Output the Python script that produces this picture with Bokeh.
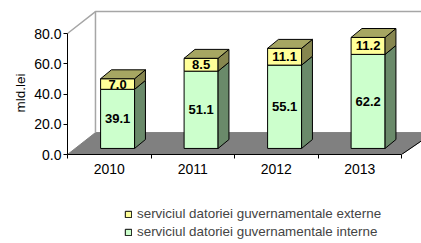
import math
from bokeh.plotting import figure
from bokeh.layouts import column
from bokeh.models import (Range1d, LinearAxis, FixedTicker, NumeralTickFormatter,
                          Legend, LegendItem, Title, ColumnDataSource)
from bokeh.embed import file_html
from bokeh.resources import INLINE
from bokeh.core.properties import value

# ---- data ----
years = ["2010", "2011", "2012", "2013"]
interne = [39.1, 51.1, 55.1, 62.2]
externe = [7.0, 8.5, 11.1, 11.2]
y_ticks = [0, 20, 40, 60, 80]
legend_labels = ["serviciul datoriei guvernamentale externe",
                 "serviciul datoriei guvernamentale interne"]
y_title = "mld.lei"

# ---- styling / geometry ----
FONT = "Liberation Sans"
GREEN, GREEN_SIDE = "#CCFFCC", "#6A8A6A"
YELLOW, YELLOW_SIDE, YELLOW_TOP = "#FFFF99", "#86864F", "#A6A662"
FLOOR = "#808080"
WALL = "#A6A6A6"

n = len(years)
depth_x, depth_y = 0.335, 14.5      # floor depth (data units)
bar_shift, half_w = 0.10, 0.2035     # bar offset inside category
ddx, ddy = 0.13, 5.9                 # bar depth
y0 = 4.0                             # bars baseline (mid-depth)

W = 421
H1, H2 = 190, 53
LEFT, FRAME_BOTTOM = 67, 154
p = figure(width=W, height=H1, output_backend="svg", toolbar_location=None,
           x_range=Range1d(0, (W - LEFT) / 83.5), y_range=Range1d(0, FRAME_BOTTOM / 1.5125),
           x_axis_type=None, y_axis_type=None,
           min_border_left=LEFT, min_border_bottom=H1 - FRAME_BOTTOM,
           min_border_top=0, min_border_right=0)
p.outline_line_color = None
p.background_fill_color = "white"
p.border_fill_color = "white"

# floor and walls
p.patch([0, n, n + depth_x + 0.05, depth_x], [0, 0, depth_y, depth_y],
        fill_color=FLOOR, line_color=FLOOR, line_width=1)
p.line([n, n + depth_x + 0.05], [0, depth_y], line_color="black", line_width=1)
p.line([0, depth_x, 6], [80, 80 + depth_y, 80 + depth_y], line_color=WALL, line_width=1.5)
p.line([depth_x, depth_x], [depth_y, 80 + depth_y], line_color=WALL, line_width=1.5)

# bars
centers = [i + 0.5 + bar_shift for i in range(n)]
left = [c - half_w for c in centers]
right = [c + half_w for c in centers]
g_top = [y0 + v for v in interne]
t_top = [g + v for g, v in zip(g_top, externe)]

src = ColumnDataSource(dict(left=left, right=right, bottom=[y0] * n, g_top=g_top, t_top=t_top))

def side(xr, yb, yt):
    return [xr, xr + ddx, xr + ddx, xr], [yb, yb + ddy, yt + ddy, yt]

gs = [side(r, y0, g) for r, g in zip(right, g_top)]
ys = [side(r, g, t) for r, g, t in zip(right, g_top, t_top)]
tops = [([l, r, r + ddx, l + ddx], [t, t, t + ddy, t + ddy]) for l, r, t in zip(left, right, t_top)]

p.quad(left="left", right="right", bottom="bottom", top="g_top", source=src,
       fill_color=GREEN, line_color="black", line_width=1)
p.patches([a for a, b in gs], [b for a, b in gs], fill_color=GREEN_SIDE, line_color="black", line_width=1)
p.quad(left="left", right="right", bottom="g_top", top="t_top", source=src,
       fill_color=YELLOW, line_color="black", line_width=1)
p.patches([a for a, b in ys], [b for a, b in ys], fill_color=YELLOW_SIDE, line_color="black", line_width=1)
p.patches([a for a, b in tops], [b for a, b in tops], fill_color=YELLOW_TOP, line_color="black", line_width=1)

# data labels
lab = ColumnDataSource(dict(
    x=centers + centers,
    y=[y0 + v / 2 for v in interne] + [g + v / 2 for g, v in zip(g_top, externe)],
    t=[f"{v:.1f}" for v in interne] + [f"{v:.1f}" for v in externe]))
p.text(x="x", y="y", text="t", source=lab, text_align="center", text_baseline="middle",
       text_font=value(FONT), text_font_size="13px", text_font_style="bold", text_color="black")

# y axis
yax = LinearAxis(ticker=FixedTicker(ticks=y_ticks), formatter=NumeralTickFormatter(format="0.0"),
                 bounds=(0, 80))
yax.axis_line_color = "black"
yax.major_tick_line_color = "black"
yax.major_tick_out = 4
yax.major_tick_in = 0
yax.minor_tick_line_color = None
yax.major_label_text_font = FONT
yax.major_label_text_font_size = "14px"
yax.major_label_text_color = "black"
yax.major_label_standoff = 2
p.add_layout(yax, "left")

# y title (left title, shifted down to the axis' middle)
p.add_layout(Title(text=y_title, align="left", offset=42, standoff=8,
                   text_font=FONT, text_font_size="13.5px", text_font_style="normal",
                   text_color="black"), "left")

# x axis
xt = [i + 0.5 for i in range(n)]
xax = LinearAxis(ticker=FixedTicker(ticks=xt, minor_ticks=list(range(n + 1))),
                 major_label_overrides={t: y for t, y in zip(xt, years)}, bounds=(0, n))
xax.axis_line_color = "black"
xax.major_tick_line_color = None
xax.minor_tick_line_color = "black"
xax.minor_tick_out = 4
xax.minor_tick_in = 0
xax.major_label_text_font = FONT
xax.major_label_text_font_size = "14px"
xax.major_label_text_color = "black"
xax.major_label_standoff = 3
p.add_layout(xax, "below")

# legend strip (frame aligned with the chart's frame)
q = figure(width=W, height=H2, output_backend="svg", toolbar_location=None,
           x_range=Range1d(0, W - LEFT), y_range=Range1d(0, H2),
           x_axis_type=None, y_axis_type=None,
           min_border_left=LEFT, min_border_bottom=0, min_border_top=0, min_border_right=0)
q.outline_line_color = None
q.grid.visible = False
r_y = q.quad(left="left", right="right", bottom="g_top", top="t_top", source=src,
             fill_color=YELLOW, line_color="black", line_width=1, visible=False)
r_g = q.quad(left="left", right="right", bottom="bottom", top="g_top", source=src,
             fill_color=GREEN, line_color="black", line_width=1, visible=False)
legend = Legend(items=[LegendItem(label=legend_labels[0], renderers=[r_y]),
                       LegendItem(label=legend_labels[1], renderers=[r_g])],
                location=(124 - LEFT, 4), orientation="vertical",
                glyph_width=8, glyph_height=8, label_standoff=5, spacing=3,
                padding=0, margin=0, border_line_color=None, background_fill_alpha=0,
                inactive_fill_alpha=0,
                label_text_font=FONT, label_text_font_size="13.4px", label_height=13)
q.add_layout(legend, "center")

layout = column(p, q, spacing=0)
open("out.html", "w").write(file_html(layout, INLINE))
